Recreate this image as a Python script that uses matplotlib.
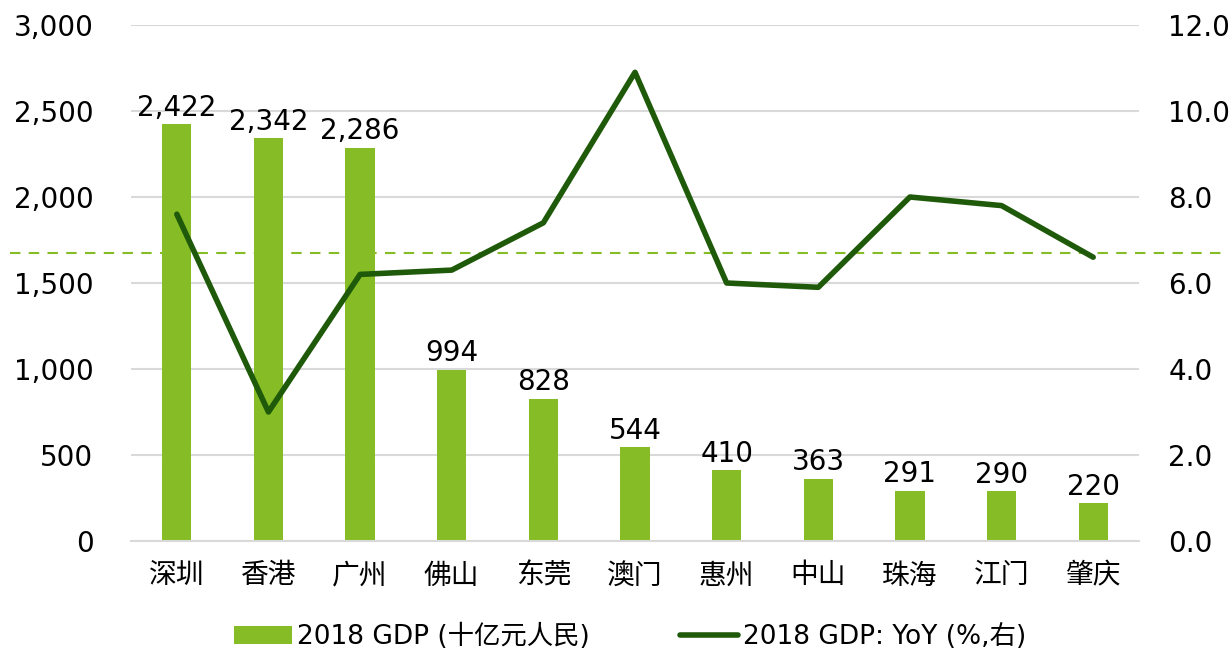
import numpy as np
import matplotlib
matplotlib.use("Agg")
import matplotlib.pyplot as plt
import matplotlib.transforms as mtransforms

plt.rcParams['font.family'] = ['DejaVu Sans', 'Noto Sans CJK SC']

# data
cities = ['深圳', '香港', '广州', '佛山', '东莞', '澳门', '惠州', '中山', '珠海', '江门', '肇庆']
gdp = [2422, 2342, 2286, 994, 828, 544, 410, 363, 291, 290, 220]
yoy = [7.6, 3.0, 6.2, 6.3, 7.4, 10.9, 6.0, 5.9, 8.0, 7.8, 6.6]
ref_level = 6.7

bar_color = '#86BC25'
line_color = '#1E5A0A'

fig = plt.figure(figsize=(12.31, 6.54), dpi=100)
ax = fig.add_axes([131 / 1231, 1 - 541 / 654, 1008 / 1231, 516 / 654])
ax2 = ax.twinx()

x = np.arange(len(cities))
ax.bar(x, gdp, width=0.32, color=bar_color, zorder=2, label='2018 GDP (十亿元人民)')
for xi, v in zip(x, gdp):
    ax.text(xi, v + 15, f'{v:,}', ha='center', va='bottom', fontsize=20)

ax.set_xlim(-0.5, len(cities) - 0.5)
ax.set_ylim(0, 3000)
ax.set_yticks(range(0, 3001, 500))
ax.yaxis.set_major_formatter(matplotlib.ticker.FuncFormatter(lambda v, p: f'{int(v):,}'))
ax.grid(axis='y', color='#D9D9D9', linewidth=1.5, zorder=0)
ax.set_axisbelow(True)
ax.set_xticks(x)
ax.set_xticklabels(cities, family=['Noto Sans CJK SC'], fontsize=20)
ax.tick_params(axis='y', labelsize=20, length=0, pad=27)
ax.tick_params(axis='x', length=0, pad=14)
for s in ax.spines.values():
    s.set_visible(False)
ax.spines['bottom'].set_visible(True)
ax.spines['bottom'].set_color('#D9D9D9')
ax.spines['bottom'].set_linewidth(1.5)

ax2.plot(x, yoy, color=line_color, linewidth=4, solid_capstyle='round', zorder=3,
         label='2018 GDP: YoY (%,右)')
ax2.set_ylim(0, 12)
ax2.set_yticks(np.arange(0, 12.1, 2))
ax2.yaxis.set_major_formatter(matplotlib.ticker.FormatStrFormatter('%.1f'))
ax2.tick_params(axis='y', labelsize=20, length=0, pad=21)
for s in ax2.spines.values():
    s.set_visible(False)

# dashed reference line across whole figure width
trans = mtransforms.blended_transform_factory(fig.transFigure, ax2.transData)
ax2.plot([10 / 1231, 1222 / 1231], [ref_level, ref_level], transform=trans,
         color=bar_color, linestyle=(0, (5, 4)), linewidth=1.5, clip_on=False, zorder=1)

h1, l1 = ax.get_legend_handles_labels()
h2, l2 = ax2.get_legend_handles_labels()
fig.legend(h1 + h2, l1 + l2, loc='center', bbox_to_anchor=(630 / 1231, 1 - 637 / 654),
           ncol=2, frameon=False, prop={'family': ['DejaVu Sans', 'Noto Sans CJK SC'], 'size': 19},
           handlelength=2.2, columnspacing=3.4, handletextpad=0.2)

fig.savefig('out.png', dpi=100)
